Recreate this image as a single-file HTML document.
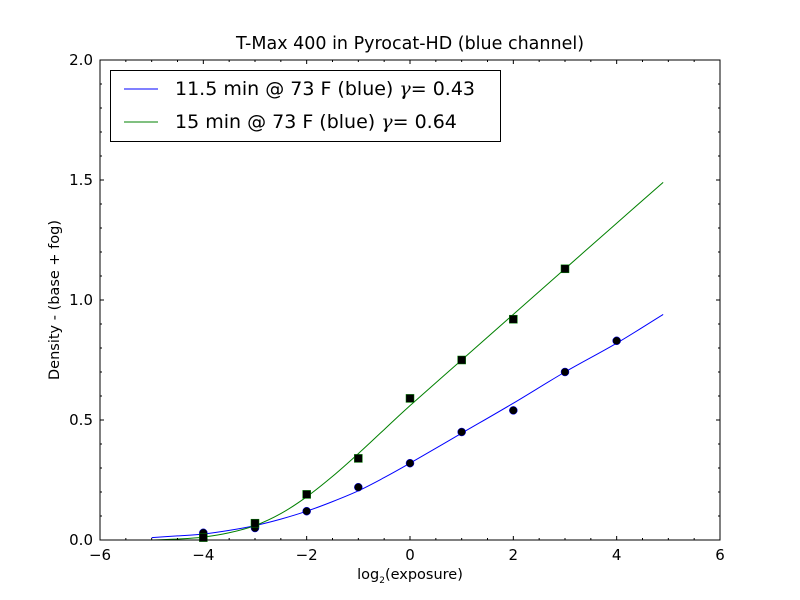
<!DOCTYPE html>
<html><head><meta charset="utf-8"><style>
body{margin:0;background:#fff;}
svg{display:block;font-family:"DejaVu Sans","Liberation Sans",sans-serif;}
</style></head><body>
<svg id="chart" width="800" height="600" viewBox="0 0 800 600">
<rect width="800" height="600" fill="#fff"/>
<g id="plot"></g>
<text x="410" y="49" font-size="17.5" text-anchor="middle">T-Max 400 in Pyrocat-HD (blue channel)</text>
<text x="410" y="579" font-size="14.5" text-anchor="middle">log<tspan font-size="9" dy="4">2</tspan><tspan dy="-4">(exposure)</tspan></text>
<text x="59" y="300" font-size="14.5" text-anchor="middle" transform="rotate(-90 59 300)">Density - (base + fog)</text>
<g>
<rect x="110.5" y="70.5" width="390" height="71" fill="#fff" stroke="#000" stroke-width="1"/>
<line x1="124" y1="89" x2="158" y2="89" stroke="#0000ff" stroke-width="1"/>
<text x="175" y="95" font-size="19">11.5 min @ 73 F (blue) <tspan font-family="DejaVu Serif" font-style="italic">γ</tspan>= 0.43</text>
<line x1="124" y1="122" x2="158" y2="122" stroke="#008000" stroke-width="1"/>
<text x="175" y="128" font-size="19">15 min @ 73 F (blue) <tspan font-family="DejaVu Serif" font-style="italic">γ</tspan>= 0.64</text>
</g>
</svg>
<script>
const blueX=[-4,-3,-2,-1,0,1,2,3,4];
const blueY=[0.03,0.05,0.12,0.22,0.32,0.45,0.54,0.70,0.83];
const greenX=[-4,-3,-2,-1,0,1,2,3];
const greenY=[0.01,0.07,0.19,0.34,0.59,0.75,0.92,1.13];
const curveX=[-5,-4.5,-4,-3.5,-3,-2.5,-2,-1.5,-1,-0.5,0,1,2,3,4,4.9];
const blueFit=[0.01,0.017,0.025,0.04,0.06,0.087,0.12,0.16,0.205,0.26,0.32,0.445,0.57,0.70,0.82,0.94];
const greenFit=[0.0,0.004,0.012,0.03,0.06,0.11,0.18,0.265,0.36,0.46,0.56,0.75,0.94,1.13,1.32,1.49];
const xTicks=[-6,-4,-2,0,2,4,6];
const xTickLabels=["\u22126","\u22124","\u22122","0","2","4","6"];
const yTicks=[0,0.5,1,1.5,2];
const yTickLabels=["0.0","0.5","1.0","1.5","2.0"];

const L=100,R=720,T=60,B=540;
const sx=v=>L+(v+6)/12*(R-L);
const sy=v=>B-v/2*(B-T);
const NS="http://www.w3.org/2000/svg";
const plot=document.getElementById('plot');
function mk(tag,attrs,parent){const e=document.createElementNS(NS,tag);for(const k in attrs)e.setAttribute(k,attrs[k]);(parent||plot).appendChild(e);return e;}

function smooth(xs,ys){
  const p=xs.map((x,i)=>[sx(x),sy(ys[i])]);
  let d=`M${p[0][0]},${p[0][1]}`;
  for(let i=0;i<p.length-1;i++){
    const p0=p[Math.max(0,i-1)],p1=p[i],p2=p[i+1],p3=p[Math.min(p.length-1,i+2)];
    const c1=[p1[0]+(p2[0]-p0[0])/6,p1[1]+(p2[1]-p0[1])/6];
    const c2=[p2[0]-(p3[0]-p1[0])/6,p2[1]-(p3[1]-p1[1])/6];
    d+=`C${c1[0]},${c1[1]} ${c2[0]},${c2[1]} ${p2[0]},${p2[1]}`;
  }
  return d;
}
const bl=mk('path',{d:smooth(curveX,blueFit),fill:'none',stroke:'#0000ff','stroke-width':1});


const gl=mk('path',{d:smooth(curveX,greenFit),fill:'none',stroke:'#008000','stroke-width':1});



blueX.forEach((x,i)=>{
  const c=mk('circle',{cx:sx(x),cy:sy(blueY[i]),r:4,fill:'#000',stroke:'#0000ff','stroke-width':0.5});
  
  
});
greenX.forEach((x,i)=>{
  const s=mk('rect',{x:sx(x)-4,y:sy(greenY[i])-4,width:8,height:8,fill:'#000',stroke:'#008000','stroke-width':0.5});
  
  
});

const fr=mk('rect',{x:L,y:T,width:R-L,height:B-T,fill:'none',stroke:'#000','stroke-width':1});



for(let v=-6;v<=6.001;v+=0.5){
  const X=sx(v),major=Math.abs(v%2)<1e-6;const len=major?4:2;
  const t1=mk('line',{x1:X,y1:B,x2:X,y2:B-len,stroke:'#000','stroke-width':1});
  
  
  const t2=mk('line',{x1:X,y1:T,x2:X,y2:T+len,stroke:'#000','stroke-width':1});
  
  
}
for(let k=0;k<=20;k++){
  const v=k/10,Y=sy(v),major=k%5===0;const len=major?4:2;
  const t1=mk('line',{x1:L,y1:Y,x2:L+len,y2:Y,stroke:'#000','stroke-width':1});
  
  
  const t2=mk('line',{x1:R,y1:Y,x2:R-len,y2:Y,stroke:'#000','stroke-width':1});
  
  
}
xTicks.forEach((v,i)=>{
  const t=mk('text',{x:sx(v),y:B+20,'font-size':15,'text-anchor':'middle'});
  t.textContent=xTickLabels[i];
  
  
});
yTicks.forEach((v,i)=>{
  const t=mk('text',{x:L-7,y:sy(v)+5,'font-size':15,'text-anchor':'end'});
  t.textContent=yTickLabels[i];
  
  
});
</script>
</body></html>
